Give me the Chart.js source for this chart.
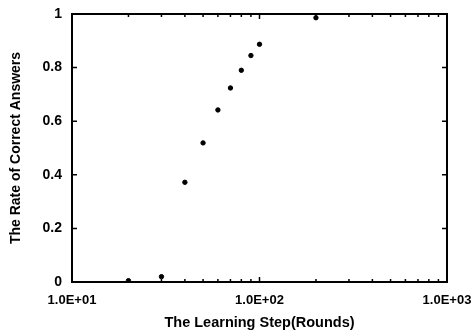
<!DOCTYPE html>
<html>
<head>
<meta charset="utf-8">
<script src="https://cdn.jsdelivr.net/npm/chart.js@4/dist/chart.umd.min.js"></script>
<style>
html,body{margin:0;padding:0;background:#fff;}
#wrap{width:475px;height:335px;position:relative;}
</style>
</head>
<body>
<div id="wrap"><canvas id="c" width="475" height="335"></canvas></div>
<script>
// Data
const learningSteps = [20, 30, 40, 50, 60, 70, 80, 90, 100, 200];
const correctRates  = [0.005, 0.02, 0.372, 0.519, 0.642, 0.724, 0.79, 0.845, 0.887, 0.986];
const xTickValues = [10, 100, 1000];
const xTickLabels = ['1.0E+01', '1.0E+02', '1.0E+03'];
const yTickValues = [0, 0.2, 0.4, 0.6, 0.8, 1];
const yTickLabels = ['0', '0.2', '0.4', '0.6', '0.8', '1'];
const xTitle = 'The Learning Step(Rounds)';
const yTitle = 'The Rate of Correct Answers';

const points = learningSteps.map((x, i) => ({x: x, y: correctRates[i]}));

const frame = {
  id: 'frame',
  afterDatasetsDraw(chart) {
    const ctx = chart.ctx, a = chart.chartArea;
    const xs = chart.scales.x, ys = chart.scales.y;
    ctx.save();
    ctx.strokeStyle = '#000';
    ctx.lineWidth = 2;
    ctx.strokeRect(a.left, a.top, a.right - a.left, a.bottom - a.top);
    ctx.lineWidth = 1.5;
    ctx.beginPath();
    yTickValues.forEach(v => {
      const p = ys.getPixelForValue(v);
      ctx.moveTo(a.left, p); ctx.lineTo(a.left + 5, p);
      ctx.moveTo(a.right, p); ctx.lineTo(a.right - 5, p);
    });
    for (let d = 10; d < 1000; d *= 10) {
      for (let m = 1; m <= 10; m++) {
        const v = d * m;
        const p = xs.getPixelForValue(v);
        const len = (m === 1 || m === 10) ? 5 : 3;
        ctx.moveTo(p, a.bottom); ctx.lineTo(p, a.bottom - len);
        ctx.moveTo(p, a.top); ctx.lineTo(p, a.top + len);
      }
    }
    ctx.stroke();
    ctx.restore();
  }
};

new Chart(document.getElementById('c'), {
  type: 'scatter',
  data: {
    datasets: [{
      data: points,
      backgroundColor: '#000',
      borderColor: '#000',
      pointRadius: 2.2,
      pointHoverRadius: 2.2
    }]
  },
  options: {
    responsive: false,
    animation: false,
    devicePixelRatio: 1,
    layout: {padding: 0},
    plugins: {legend: {display: false}, tooltip: {enabled: false}},
    scales: {
      x: {
        type: 'logarithmic',
        min: 10, max: 1000,
        afterBuildTicks: s => { s.ticks = xTickValues.map(v => ({value: v})); },
        afterFit: s => { s.height = 53; s.paddingLeft = 0; s.paddingRight = 28; },
        grid: {display: false, drawTicks: false},
        border: {display: false},
        ticks: {
          color: '#000',
          padding: 11,
          maxRotation: 0,
          autoSkip: false,
          font: {family: 'Liberation Sans, Arial, sans-serif', weight: 'bold', size: 13},
          callback: (v) => { const i = xTickValues.indexOf(v); return i >= 0 ? xTickLabels[i] : ''; }
        },
        title: {
          display: true, text: xTitle, color: '#000',
          padding: {top: 0, bottom: 3},
          font: {family: 'Liberation Sans, Arial, sans-serif', weight: 'bold', size: 14.5}
        }
      },
      y: {
        min: 0, max: 1,
        afterBuildTicks: s => { s.ticks = yTickValues.map(v => ({value: v})); },
        afterFit: s => { s.width = 72; s.paddingTop = 14; s.paddingBottom = 0; },
        grid: {display: false, drawTicks: false},
        border: {display: false},
        ticks: {
          color: '#000',
          padding: 10,
          font: {family: 'Liberation Sans, Arial, sans-serif', weight: 'bold', size: 14},
          callback: (v) => { const i = yTickValues.indexOf(v); return i >= 0 ? yTickLabels[i] : ''; }
        },
        title: {
          display: true, text: yTitle, color: '#000',
          padding: {top: 8, bottom: 0},
          font: {family: 'Liberation Sans, Arial, sans-serif', weight: 'bold', size: 14}
        }
      }
    }
  },
  plugins: [frame]
});
</script>
</body>
</html>
